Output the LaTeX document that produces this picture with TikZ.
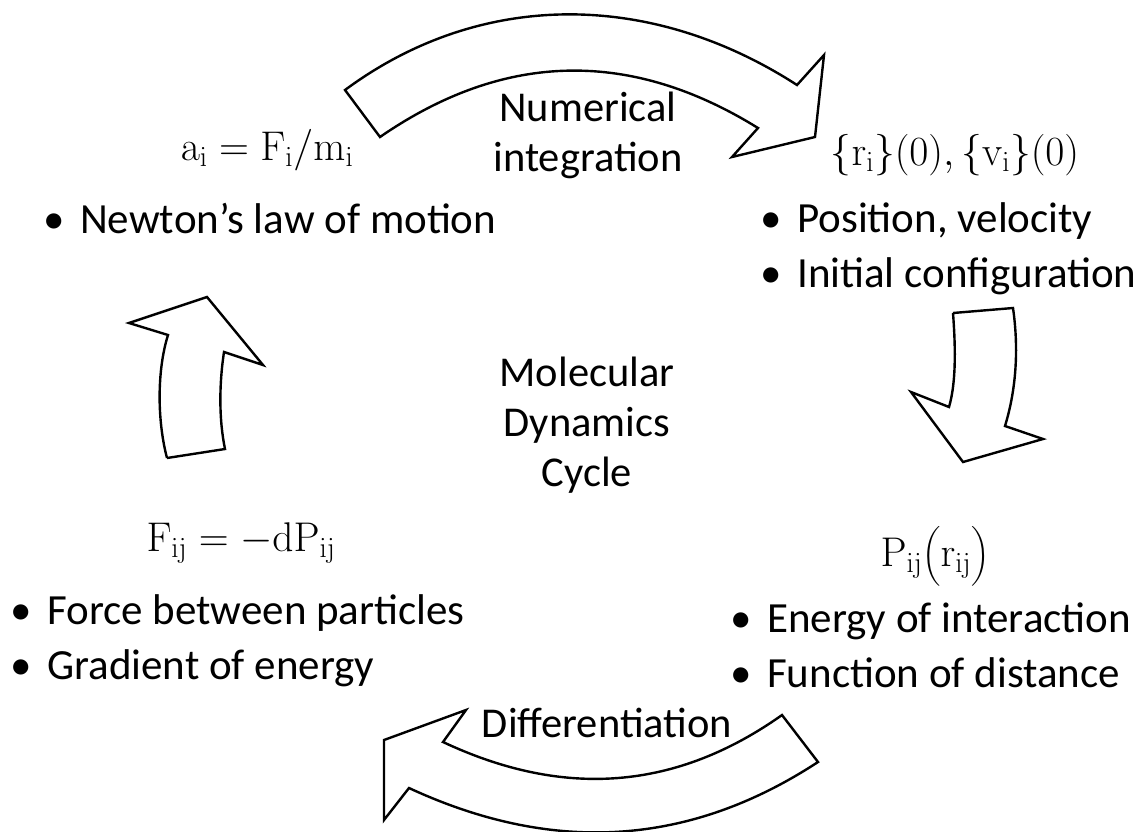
\RequirePackage{fix-cm}
\documentclass[tikz,border=0pt]{standalone}
\usepackage{amsmath}
\usepackage[no-math]{fontspec}
\setmainfont{Carlito}
\usepackage{tikz}

\tikzset{
  blockarrow/.style={draw=black, line width=2.4pt, fill=white, line join=miter},
  label/.style={inner sep=0pt, font=\fontsize{42.5}{50}\selectfont},
  listline/.style={inner sep=0pt, anchor=base west, font=\fontsize{43}{55}\selectfont},
  formula/.style={inner sep=0pt, font=\fontsize{41.5}{46}\selectfont}
}
\newcommand{\itm}[1]{\makebox[37pt][l]{\textbullet}#1}

\begin{document}
\begin{tikzpicture}[x=1pt, y=-1pt]
  \useasboundingbox[fill=white] (0,0) rectangle (1137,831);

  % Top arrow (numerical integration)
  \draw[blockarrow] (345,90) .. controls (480,-10) and (650,-10) .. (797,85)
    -- (824,55) -- (815,137) -- (732,157) -- (758,128)
    .. controls (632,50) and (506,50) .. (380,137) -- cycle;

  % Right arrow
  \draw[blockarrow] (953,313) -- (1013,308)
    .. controls (1019,350) and (1016,390) .. (1005,426)
    -- (1043,439) -- (963,462) -- (911,392) -- (949,407)
    .. controls (957,380) and (955,340) .. (953,313);

  % Bottom arrow (differentiation)
  \draw[blockarrow] (818,762) .. controls (682,851) and (545,851) .. (409,788)
    -- (384,820) -- (384,740) -- (466,710) -- (443,742)
    .. controls (556,795) and (669,795) .. (782,715) -- cycle;

  % Left arrow
  \draw[blockarrow] (167,458) -- (225,449)
    .. controls (219,420) and (219,385) .. (224,352)
    -- (263,365) -- (207,297) -- (129,323) -- (168,335)
    .. controls (157,370) and (157,420) .. (167,458);

  % Equations
  \node[formula] (acc) at (267,150) {$\mathrm{a}_\mathrm{i} = \mathrm{F}_\mathrm{i}/\mathrm{m}_\mathrm{i}$};
  \node[formula] (init) at (955,155) {$\{\mathrm{r}_\mathrm{i}\}(0),\{\mathrm{v}_\mathrm{i}\}(0)$};
  \node[formula] (force) at (241,543) {$\mathrm{F}_\mathrm{ij} = -\mathrm{d}\mathrm{P}_\mathrm{ij}$};
  \node[formula] (pot) at (935,556) {$\mathrm{P}_\mathrm{ij}\bigl(\mathrm{r}_\mathrm{ij}\bigr)$};

  % Bullet lists
  \node[listline] (newton) at (43,233) {\itm{Newton’s law of motion}};
  \node[listline] (posvel) at (760,232) {\itm{Position, velocity}};
  \node[listline] (initcfg) at (760,287) {\itm{Initial configuration}};
  \node[listline] (fbetween) at (10,624) {\itm{Force between particles}};
  \node[listline] (grad) at (10,679) {\itm{Gradient of energy}};
  \node[listline] (energy) at (730,632) {\itm{Energy of interaction}};
  \node[listline] (func) at (730,687) {\itm{Function of distance}};

  % Arrow labels and centre
  \node[label, align=center] (numint) at (588,135) {Numerical\\integration};
  \node[label, anchor=base] (diff) at (607,737) {Differentiation};
  \node[label, align=center] (mdc) at (587,425) {Molecular\\Dynamics\\Cycle};
\end{tikzpicture}
\end{document}
